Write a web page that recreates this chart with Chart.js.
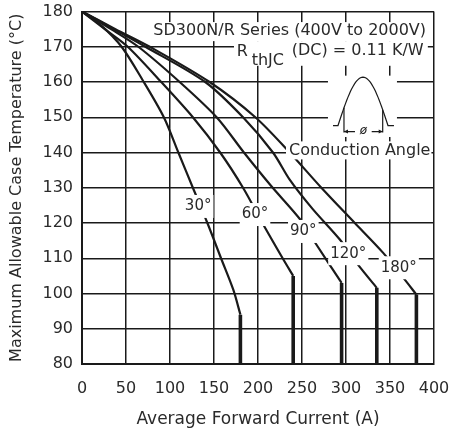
<!DOCTYPE html>
<html lang="en">
<head>
    <meta charset="UTF-8">
    <title>SD300N/R Series - Maximum Allowable Case Temperature</title>
    <script src="https://cdn.jsdelivr.net/npm/chart.js"></script>
    <style>
        body {
            margin: 0;
            background: #fff;
        }
        #wrap {
            width: 450px;
            height: 434px;
        }
    </style>
</head>
<body>
    <div id="wrap"><canvas id="derating" width="450" height="434"></canvas></div>

    <script>
        // Derating curves: case temperature (°C) against average forward current (A).
        // Each curve runs down to its knee, then drops straight to the floor of the chart.
        const angleLabels = ['30°', '60°', '90°', '120°', '180°'];

        const amps30 = [0, 22, 45, 69, 93, 109.5, 126, 142.5, 158, 172, 180];
        const temp30 = [180, 176, 170, 160.5, 150, 140, 130, 120, 110, 101, 94];

        const amps60 = [0, 26, 52, 90, 126, 157, 183, 205, 228, 240];
        const temp60 = [180, 175, 170, 160, 150, 140, 130, 120, 110, 105];

        const amps90 = [0, 33, 64, 111, 153, 184, 215, 248, 265, 295];
        const temp90 = [180, 175, 170, 160, 150, 140, 130.5, 121, 114.4, 103];

        const amps120 = [0, 36, 72, 140, 183, 217, 236, 262, 293, 313.6, 335];
        const temp120 = [180, 175, 170, 160, 150, 140, 132.3, 124, 115.3, 108.2, 101.6];

        const amps180 = [0, 38, 77, 145, 197, 236, 272, 310, 342, 365, 380];
        const temp180 = [180, 175, 170, 160, 150, 140, 130, 120, 111.6, 104.5, 99.7];

        const xTicks = [0, 50, 100, 150, 200, 250, 300, 350, 400];
        const yTicks = [80, 90, 100, 110, 120, 130, 140, 150, 160, 170, 180];

        const curves = [
            [amps30, temp30], [amps60, temp60], [amps90, temp90],
            [amps120, temp120], [amps180, temp180]
        ];
        const floorTemp = yTicks[0];

        const INK = '#1a1a1a';
        const TEXT = '#2a2a2a';
        const FONT = "'DejaVu Sans', sans-serif";
        Chart.defaults.font.family = FONT;
        Chart.defaults.color = TEXT;

        function px(chart, v) { return chart.scales.x.getPixelForValue(v); }
        function py(chart, v) { return chart.scales.y.getPixelForValue(v); }

        // white patch behind a label, then the label itself (data units)
        function tag(ctx, chart, text, xv, yv, size, padX, padY) {
            ctx.font = size + 'px ' + FONT;
            const w = ctx.measureText(text).width;
            const cx = px(chart, xv), cy = py(chart, yv);
            ctx.fillStyle = '#fff';
            ctx.fillRect(cx - w / 2 - padX, cy - size / 2 - padY, w + padX * 2, size + padY * 2);
            ctx.fillStyle = TEXT;
            ctx.textAlign = 'center';
            ctx.textBaseline = 'middle';
            ctx.fillText(text, cx, cy);
        }

        function blank(ctx, chart, x0, y0, x1, y1) {
            const l = px(chart, x0), r = px(chart, x1);
            const t = py(chart, y0), b = py(chart, y1);
            ctx.fillStyle = '#fff';
            ctx.fillRect(l, t, r - l, b - t);
        }

        const notes = {
            id: 'notes',
            afterDatasetsDraw(chart) {
                const ctx = chart.ctx;
                ctx.save();

                // series heading
                blank(ctx, chart, 77.3, 177, 395.5, 171.6);
                ctx.font = '16px ' + FONT;
                ctx.fillStyle = TEXT;
                ctx.textAlign = 'center';
                ctx.textBaseline = 'middle';
                ctx.fillText('SD300N/R Series (400V to 2000V)', px(chart, 236), py(chart, 174.5));

                // thermal resistance line
                blank(ctx, chart, 172.7, 171.6, 393, 164.6);
                ctx.textAlign = 'left';
                ctx.textBaseline = 'alphabetic';
                ctx.fillStyle = TEXT;
                ctx.fillText('R', px(chart, 175.8), py(chart, 167.4));
                ctx.fillText('thJC', px(chart, 192.8), py(chart, 164.9));
                ctx.fillText('(DC) = 0.11 K/W', px(chart, 238.3), py(chart, 167.6));

                // conduction angle sketch
                blank(ctx, chart, 279.5, 161.8, 357.9, 144.4);
                const base = py(chart, 147.65), peak = py(chart, 161.36);
                const s0 = px(chart, 290.9), s1 = px(chart, 347.7);
                const c0 = px(chart, 297.7), c1 = px(chart, 341.7);
                const low = py(chart, 145.95);
                ctx.strokeStyle = INK;
                ctx.lineWidth = 1.2;
                ctx.beginPath();
                ctx.moveTo(px(chart, 285.2), base);
                ctx.lineTo(s0, base);
                for (let i = 0; i <= 40; i++) {
                    const t = i / 40;
                    ctx.lineTo(s0 + (s1 - s0) * t, base - (base - peak) * Math.sin(Math.PI * t));
                }
                ctx.lineTo(px(chart, 354.5), base);
                ctx.stroke();
                const hit = v => base - (base - peak) * Math.sin(Math.PI * (v - s0) / (s1 - s0));
                ctx.beginPath();
                ctx.moveTo(c0, hit(c0)); ctx.lineTo(c0, low + 1);
                ctx.moveTo(c1, hit(c1)); ctx.lineTo(c1, low + 1);
                ctx.moveTo(c0, low); ctx.lineTo(c0 + 11, low);
                ctx.moveTo(c1, low); ctx.lineTo(c1 - 11, low);
                ctx.stroke();
                ctx.beginPath();
                ctx.moveTo(c0, low); ctx.lineTo(c0 + 4, low - 2); ctx.lineTo(c0 + 4, low + 2); ctx.closePath();
                ctx.moveTo(c1, low); ctx.lineTo(c1 - 4, low - 2); ctx.lineTo(c1 - 4, low + 2); ctx.closePath();
                ctx.fillStyle = INK;
                ctx.fill();
                ctx.font = 'italic 12px ' + FONT;
                ctx.textAlign = 'center';
                ctx.textBaseline = 'middle';
                ctx.fillText('ø', (c0 + c1) / 2, low - 1);

                // caption under the sketch
                ctx.font = '16px ' + FONT;
                const capW = ctx.measureText('Conduction Angle').width;
                const capX = px(chart, 235.2), capY = py(chart, 140.6);
                ctx.fillStyle = '#fff';
                ctx.fillRect(capX - 3, capY - 9, capW + 4, 18);
                ctx.fillStyle = TEXT;
                ctx.textAlign = 'left';
                ctx.fillText('Conduction Angle', capX, capY);

                // angle tags on each curve
                const tagAt = [[132, 124.7], [196.6, 122.4], [251.5, 117.6], [302.6, 111.3], [360, 107.3]];
                angleLabels.forEach((t, i) => tag(ctx, chart, t, tagAt[i][0], tagAt[i][1], 15, 2, 4));

                ctx.restore();
            }
        };

        // sloped part of each curve, smoothed
        const slopeSets = curves.map(([a, t], i) => ({
            label: angleLabels[i],
            data: a.map((v, k) => ({ x: v, y: t[k] })),
            borderColor: INK,
            borderWidth: 2.2,
            pointRadius: 0,
            tension: 0.3
        }));

        // straight drop from the knee to the floor
        const dropSets = curves.map(([a, t], i) => ({
            label: angleLabels[i] + ' limit',
            data: [
                { x: a[a.length - 1], y: t[t.length - 1] },
                { x: a[a.length - 1], y: floorTemp }
            ],
            borderColor: INK,
            borderWidth: 3.6,
            pointRadius: 0,
            tension: 0
        }));

        new Chart(document.getElementById('derating'), {
            type: 'line',
            data: { datasets: slopeSets.concat(dropSets) },
            options: {
                responsive: false,
                animation: false,
                devicePixelRatio: 1,
                layout: { padding: { top: 11.5, right: 16, left: 0, bottom: 0 } },
                plugins: {
                    legend: { display: false },
                    tooltip: { enabled: false }
                },
                scales: {
                    x: {
                        type: 'linear',
                        min: 0,
                        max: 400,
                        afterBuildTicks: s => { s.ticks = xTicks.map(v => ({ value: v })); },
                        afterFit: s => { s.height = 70; s.paddingLeft = 0; s.paddingRight = 0; },
                        ticks: { font: { size: 16 }, padding: 15, maxRotation: 0 },
                        grid: { color: INK, lineWidth: 1.5, drawTicks: false },
                        border: { color: INK, width: 2 },
                        title: {
                            display: true,
                            text: 'Average Forward Current (A)',
                            font: { size: 17 },
                            padding: { top: 0, bottom: 4 }
                        }
                    },
                    y: {
                        type: 'linear',
                        min: 80,
                        max: 180,
                        afterBuildTicks: s => { s.ticks = yTicks.map(v => ({ value: v })); },
                        afterFit: s => { s.width = 82; s.paddingTop = 0; s.paddingBottom = 0; },
                        ticks: { font: { size: 16 }, padding: 9 },
                        grid: { color: INK, lineWidth: 1.5, drawTicks: false },
                        border: { color: INK, width: 2 },
                        title: {
                            display: true,
                            text: 'Maximum Allowable Case Temperature (°C)',
                            font: { size: 16 },
                            padding: { top: 7, bottom: 0 }
                        }
                    }
                }
            },
            plugins: [notes]
        });
    </script>
</body>
</html>
